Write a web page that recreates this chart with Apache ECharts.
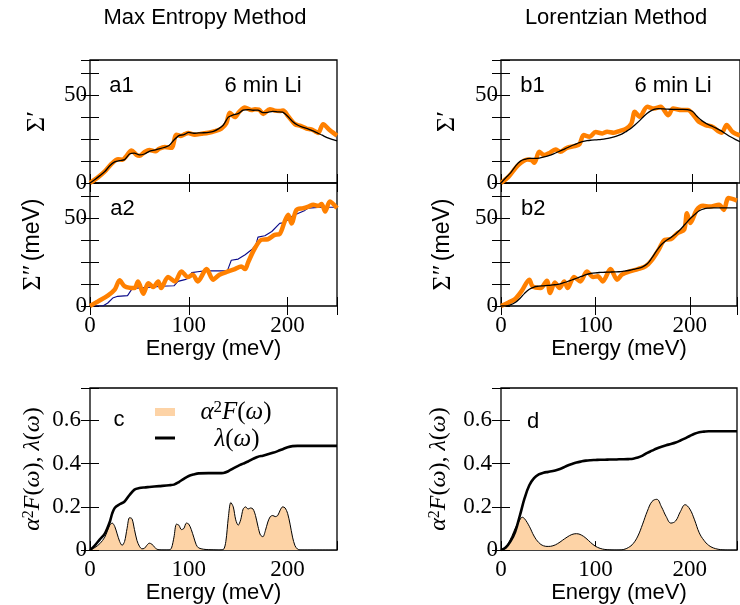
<!DOCTYPE html>
<html><head><meta charset="utf-8">
<script src="https://cdn.jsdelivr.net/npm/echarts@6/dist/echarts.min.js"></script>
<style>html,body{margin:0;padding:0;background:#fff}#c{width:740px;height:605px}</style>
</head><body><div id="c"></div>
<script>
// ---------- data ----------
const E5 = [0,5,10,15,20,25,30,35,40,45,50,55,60,65,70,75,80,85,90,95,100,105,110,115,120,125,130,135,140,145,150,155,160,165,170,175,180,185,190,195,200,205,210,215,220,225,230,235,240,245,250];

// a1: Sigma' (Max Entropy)
const a1OrangeE = [0,8,15,21.6,28.4,33,37,42,47,50,55,60,66,70,75.7,82.4,87.5,92,96,99.3,106,112.8,120,126.3,133,138,141.5,146.6,151,156.7,163.5,167,171,175.3,182,187,192,195.5,200.6,207.4,213,219.2,224,227.6,231,236,242.8,250];
const a1OrangeV = [0,3.2,6.6,10.8,13.5,13.3,15.5,18.5,16,15.5,17.5,18.8,18,19.5,20.5,20,27.5,26.8,27.8,28.5,27.5,28,28.6,29.5,31,34,40,37.5,40.5,43,41.5,42,41.8,39.3,42,41.2,41,41.2,38,33.5,32.5,31,30.5,29.5,28.5,33.5,30,27];
const a1Black = [0,2,4.2,6.5,9.8,12,12.8,13.3,16.5,17,16,16.5,18,18.7,19.4,20.2,21.3,24.5,27,27.5,28.8,28.3,28.5,28.6,28.8,29.4,30.8,33,37.5,38.8,39.5,41.5,41.8,41.4,41.5,40,40.2,40.8,40.5,40.3,38,35,33,31.8,31,29.8,28.5,27.2,25.8,24.8,24];

// a2: Sigma'' (Max Entropy)
const a2OrangeE = [0,8,18,25,30,35,45,48.6,54,59,64,69,72,79,86,92.5,99,104,109,118,124.6,131,140,146.6,153,157,160,167,173.6,180,187,192,197,200.6,204,209,216,221,226,231,234.4,238,242.8,250];
const a2OrangeV = [0,2.6,5.9,9.3,14.6,11.2,10.2,14,7,13,10.8,14,10.2,16.5,14,19.7,16.5,17.8,14,21,15,17.8,19.7,21,22.5,21,24.8,33,37.7,38,40.5,41,48,51.9,47,54.7,55.7,56.6,57.6,57,58.1,53.8,59.5,55.7];
const a2BlueE = [0,13,18,23,28,38,42,47,65,72,85,89,96,100,103,109,116,139,143,150,157,163.5,168,170,177,184,192,197,204,211,217.5,221,234,250];
const a2BlueV = [0,0,1.7,4.5,5.5,5.9,9.3,10.2,10.8,11.2,11.5,14,15,16,19,19.5,20,20,26,26.7,29.2,32,35,39.2,40,42.4,47,47.5,51,52.8,54.4,55.7,56.2,56.2];

// c: alpha^2F and lambda (Max Entropy)
const cA2FE = [0,5,10,15,20,22.5,25,27.5,30,32.5,35,37.5,40,42.5,45,47.5,50,52.5,55,57.5,60,62.5,65,67.5,70,75,80,82.5,85,87.5,90,92.5,95,97.5,100,102.5,105,107.5,110,115,120,125,130,135,137.5,140,142.5,145,147.5,150,152.5,155,157.5,160,162.5,165,167.5,170,172.5,175,177.5,180,182.5,185,187.5,190,192.5,195,197.5,200,202.5,205,207.5,210,212.5,250];
const cA2FV = [0,0.012,0.03,0.06,0.115,0.125,0.11,0.075,0.04,0.022,0.04,0.1,0.15,0.145,0.095,0.045,0.018,0.006,0.008,0.022,0.032,0.028,0.015,0.005,0.001,0,0,0.01,0.06,0.12,0.115,0.095,0.1,0.125,0.12,0.095,0.06,0.025,0.01,0.004,0.002,0.001,0,0.003,0.04,0.15,0.22,0.2,0.14,0.115,0.14,0.19,0.2,0.19,0.195,0.19,0.16,0.11,0.07,0.062,0.09,0.13,0.155,0.16,0.155,0.16,0.185,0.2,0.195,0.17,0.12,0.06,0.02,0.005,0,0];
const cLamE = [0,5,10,15,20,22.5,25,30,35,40,45,50,55,60,70,80,85,90,95,100,105,110,120,130,135,140,145,150,155,160,165,170,175,180,185,190,195,200,205,210,250];
const cLamV = [0,0.022,0.05,0.076,0.13,0.17,0.195,0.212,0.225,0.255,0.28,0.287,0.29,0.292,0.296,0.3,0.303,0.315,0.33,0.343,0.35,0.355,0.356,0.356,0.357,0.365,0.378,0.39,0.4,0.41,0.422,0.432,0.437,0.443,0.45,0.458,0.467,0.476,0.481,0.482,0.482];

// b1: Sigma' (Lorentzian)
const b1OrangeE = [0,8,18,28,32,35,40,45,50,57,62,69,77,82,86.5,92.5,99,106,111,118,124.6,131,136.4,140,145,153,160,167,175,180,189,195.5,200.6,207,214,221,228,231,236,242,250];
const b1OrangeV = [0,3.6,10.2,13.4,13,11.5,17.8,15.9,16.9,19,17.8,20,21,22,27.3,26.3,29,28.2,29.2,28.6,29.7,31,33.9,40.5,37.7,43.4,42.4,43.4,38.6,42.4,41.5,41.5,39.2,34.8,33,32,29.2,28.6,33,29.2,27];
const b1Black = [0,3,5.8,9.5,12.3,13.5,14,14,14.2,14.8,15.6,16.6,17.8,19,20.2,21.5,22.6,23.5,24.1,24.4,24.6,24.8,25.2,25.8,26.5,27.5,29,30.7,33,35.5,38.3,40.5,41.9,42.3,42.2,42,41.9,41.9,41.9,41.8,40.8,38,35.5,33.8,32.5,31.2,29.8,28,26.3,24.8,23.5];

// b2: Sigma'' (Lorentzian)
const b2OrangeE = [0,8,15,21.6,30,33.4,42,48.6,52,57,62,67,70.6,77.3,84,91,97.6,102.7,107.7,116,123,128,136.4,145,153,160,167,173.6,180,187,194,197,200.6,207.4,214,221,231,236,241,250];
const b2OrangeV = [0,2,4,8.3,15,11.2,10.2,14.4,7.4,13.4,10.2,14,10.2,16.5,14,19.7,16.5,16.9,14,21,15,17.8,19.7,21,22.5,26.3,32,37.7,38,41.5,43.4,52.8,47.2,54.7,57,56.6,57.6,54.7,61.4,60];
const b2Black = [0,0.1,0.7,2,4.3,7.2,9.5,10.8,11.3,11.5,11.7,12,12.3,13,13.8,14.8,15.8,16.8,17.8,18.5,18.9,19.1,19.2,19.3,19.4,19.5,19.8,20.2,20.8,21.4,22.3,24,27.5,31.5,35,37.3,39,41,43.5,46.5,49.5,52,54.2,55.3,55.7,55.8,55.8,55.8,55.8,55.8,55.8];

// d: alpha^2F and lambda (Lorentzian)
const dA2FE = [0,5,10,15,20,22.5,25,30,35,40,45,50,55,60,65,70,75,80,85,90,95,100,105,110,115,120,125,130,135,140,145,150,155,160,165,170,175,180,185,190,195,200,205,210,215,220,225,230,235,240,250];
const dA2FV = [0,0.015,0.05,0.1,0.14,0.152,0.145,0.11,0.065,0.035,0.02,0.017,0.02,0.03,0.045,0.06,0.072,0.076,0.07,0.055,0.035,0.018,0.008,0.003,0.001,0,0,0.003,0.012,0.03,0.065,0.12,0.18,0.225,0.235,0.2,0.155,0.125,0.135,0.178,0.21,0.19,0.14,0.08,0.045,0.022,0.01,0.004,0.001,0,0];
const dLam = [0,0.012,0.04,0.085,0.16,0.24,0.3,0.333,0.35,0.358,0.362,0.366,0.372,0.38,0.39,0.398,0.405,0.41,0.414,0.416,0.417,0.418,0.418,0.419,0.419,0.42,0.42,0.421,0.423,0.428,0.437,0.45,0.46,0.47,0.478,0.485,0.491,0.498,0.507,0.517,0.528,0.538,0.545,0.548,0.55,0.55,0.55,0.55,0.55,0.55,0.55];

// tick labels / texts
const xTickLabels = [0, 100, 200];
const sigmaTickLabels = [0, 50];
const a2fTickLabels = [0, 0.2, 0.4, 0.6];
const titles = ['Max Entropy Method', 'Lorentzian Method'];
const panelTags = ['a1', 'a2', 'c', 'b1', 'b2', 'd'];

// ---------- chart ----------
const serif = "'Liberation Serif','DejaVu Serif',serif";
const sans = "'Liberation Sans','Arial',sans-serif";
const ORANGE = '#ff8000', FILL = '#fdd3a6', NAVY = '#0b0b8a';
const zip = (E, V) => E.map((e, i) => [e, V[i]]);

const mathRich = (size) => ({
  i:{fontFamily:serif, fontStyle:'italic', fontSize:size, color:'#000'},
  r:{fontFamily:serif, fontSize:size, color:'#000'},
  sup:{fontFamily:serif, fontSize:Math.round(size*0.68), color:'#000', verticalAlign:'top'}
});
const A2F = '{i|α}{sup|2}{i|F}{r|(}{i|ω}{r|)}';
const LAM = '{i|λ}{r|(}{i|ω}{r|)}';

const H = 123, HC = 164.7, W = 247;
const panels = [
  {grid:{left:90, top:60, width:W, height:H}, kind:'s', xlab:false, top:true, name:'{s|Σ′}', gap:53},
  {grid:{left:90, top:183, width:W, height:H}, kind:'s', xlab:true, xgap:42, top:true, name:'{s|Σ″} {t|(meV)}', gap:57},
  {grid:{left:90, top:388, width:W, height:HC}, kind:'f', xlab:true, xgap:39, top:false, name:A2F + '{r|, }' + LAM, gap:57},
  {grid:{left:501, top:60, width:W, height:H}, kind:'s', xlab:false, top:true, name:'{s|Σ′}', gap:54},
  {grid:{left:501, top:183, width:W, height:H}, kind:'s', xlab:true, xgap:42, top:true, name:'{s|Σ″} {t|(meV)}', gap:58},
  {grid:{left:501, top:388, width:W, height:HC}, kind:'f', xlab:true, xgap:39, top:false, name:A2F + '{r|, }' + LAM, gap:62}
];

const tick = (show) => ({show, inside:true, length:9, lineStyle:{color:'#000', width:1}});
const near = (v, arr) => arr.some(a => Math.abs(a - v) < 1e-6);

const option = {
  animation:false,
  backgroundColor:'#fff',
  grid: panels.map(p => Object.assign({show:true, borderColor:'#000', borderWidth:1.3, backgroundColor:'transparent'}, p.grid)),
  xAxis:[], yAxis:[], series:[], graphic:[]
};

panels.forEach((p, i) => {
  const xb = {
    gridIndex:i, type:'value', min:0, max:250, interval:100, position:'bottom',
    axisLine:{show:false}, splitLine:{show:false}, axisTick:tick(true),
    axisLabel:{show:p.xlab, margin:8, color:'#000', fontFamily:serif, fontSize:23,
      formatter: v => near(v, xTickLabels) ? String(v) : ''}
  };
  if (p.xlab) {
    xb.name = 'Energy (meV)'; xb.nameLocation = 'middle'; xb.nameGap = p.xgap;
    xb.nameTextStyle = {fontFamily:sans, fontSize:22, color:'#000', verticalAlign:'middle', align:'center'};
  }
  const xt = {gridIndex:i, type:'value', min:0, max:250, interval:100, position:'top',
    axisLine:{show:false}, splitLine:{show:false}, axisTick:tick(p.top), axisLabel:{show:false}};
  const isS = p.kind === 's';
  const yl = {
    gridIndex:i, type:'value', min:0, max: isS ? 70 : 0.75, interval: isS ? 12.5 : 0.2, position:'left',
    axisLine:{show:false}, splitLine:{show:false}, axisTick:tick(true),
    axisLabel:{show:true, margin:3, color:'#000', fontFamily:serif, fontSize:23,
      formatter: v => {
        if (isS) return near(v, sigmaTickLabels) ? String(v) : '';
        if (!near(v, a2fTickLabels)) return '';
        return v < 1e-6 ? '0' : '{p|' + v.toFixed(1) + '}';
      },
      rich:{p:{fontFamily:serif, fontSize:23, color:'#000', padding:[0,6,0,0]}}},
    name:p.name, nameLocation:'middle', nameRotate:90, nameGap:p.gap,
    nameTextStyle: isS ? {color:'#000', verticalAlign:'middle', align:'center',
        rich:{s:{fontFamily:serif, fontSize:26, color:'#000'}, t:{fontFamily:sans, fontSize:23, color:'#000'}}}
      : {color:'#000', verticalAlign:'middle', align:'center', rich:mathRich(24)}
  };
  const yr = {gridIndex:i, type:'value', min:yl.min, max:yl.max, interval:yl.interval, position:'right',
    axisLine:{show:false}, splitLine:{show:false}, axisTick:tick(true), axisLabel:{show:false}};
  option.xAxis.push(xb, xt);
  option.yAxis.push(yl, yr);
});

const line = (i, data, color, width, smooth, extra) => Object.assign({
  type:'line', xAxisIndex:2*i, yAxisIndex:2*i, data, showSymbol:false, symbol:'none',
  smooth, lineStyle:{color, width}, itemStyle:{color}, silent:true
}, extra || {});

// a1
option.series.push(line(0, zip(a1OrangeE, a1OrangeV), ORANGE, 4.5, 0.3));
option.series.push(line(0, zip(E5, a1Black), '#000', 1.3, 0.2));
// a2
option.series.push(line(1, zip(a2BlueE, a2BlueV), NAVY, 1.1, false));
option.series.push(line(1, zip(a2OrangeE, a2OrangeV), ORANGE, 4.5, 0.3));
// c
option.series.push(line(2, zip(cA2FE, cA2FV), '#000', 1, 0.3, {areaStyle:{color:FILL, opacity:1}}));
option.series.push(line(2, zip(cLamE, cLamV), '#000', 2.6, 0.3));
// b1
option.series.push(line(3, zip(b1OrangeE, b1OrangeV), ORANGE, 4.5, 0.3));
option.series.push(line(3, zip(E5, b1Black), '#000', 1.3, 0.4));
// b2
option.series.push(line(4, zip(b2OrangeE, b2OrangeV), ORANGE, 4.5, 0.3));
option.series.push(line(4, zip(E5, b2Black), '#000', 1.3, 0.4));
// d
option.series.push(line(5, zip(dA2FE, dA2FV), '#000', 1, 0.4, {areaStyle:{color:FILL, opacity:1}}));
option.series.push(line(5, zip(E5, dLam), '#000', 2.6, 0.4));

// texts
const txt = (text, x, y, font, extra) => ({type:'text', x, y, z:100,
  style:Object.assign({text, font, fill:'#000', align:'center', verticalAlign:'middle'}, extra || {})});
const F22 = '22px ' + sans;
option.graphic.push(
  txt(titles[0], 205, 18, F22),
  txt(titles[1], 616, 18, F22),
  txt(panelTags[0], 121.5, 86, F22),
  txt('6 min Li', 263, 86, F22),
  txt(panelTags[1], 122.5, 209, F22),
  txt(panelTags[2], 119, 420, F22),
  txt(panelTags[3], 532.5, 86, F22),
  txt('6 min Li', 673, 86, F22),
  txt(panelTags[4], 533.3, 209, F22),
  txt(panelTags[5], 533, 422, F22),
  // legend of panel c
  {type:'rect', z:100, shape:{x:155, y:408, width:20, height:8}, style:{fill:FILL}},
  {type:'line', z:100, shape:{x1:155, y1:438, x2:175, y2:438}, style:{stroke:'#000', lineWidth:3}},
  txt(A2F, 236, 412, '24px ' + serif, {rich:mathRich(25)}),
  txt(LAM, 237, 439, '24px ' + serif, {rich:mathRich(25)})
);

const chart = echarts.init(document.getElementById('c'), null, {renderer:'canvas'});
chart.setOption(option);
</script>
</body></html>
